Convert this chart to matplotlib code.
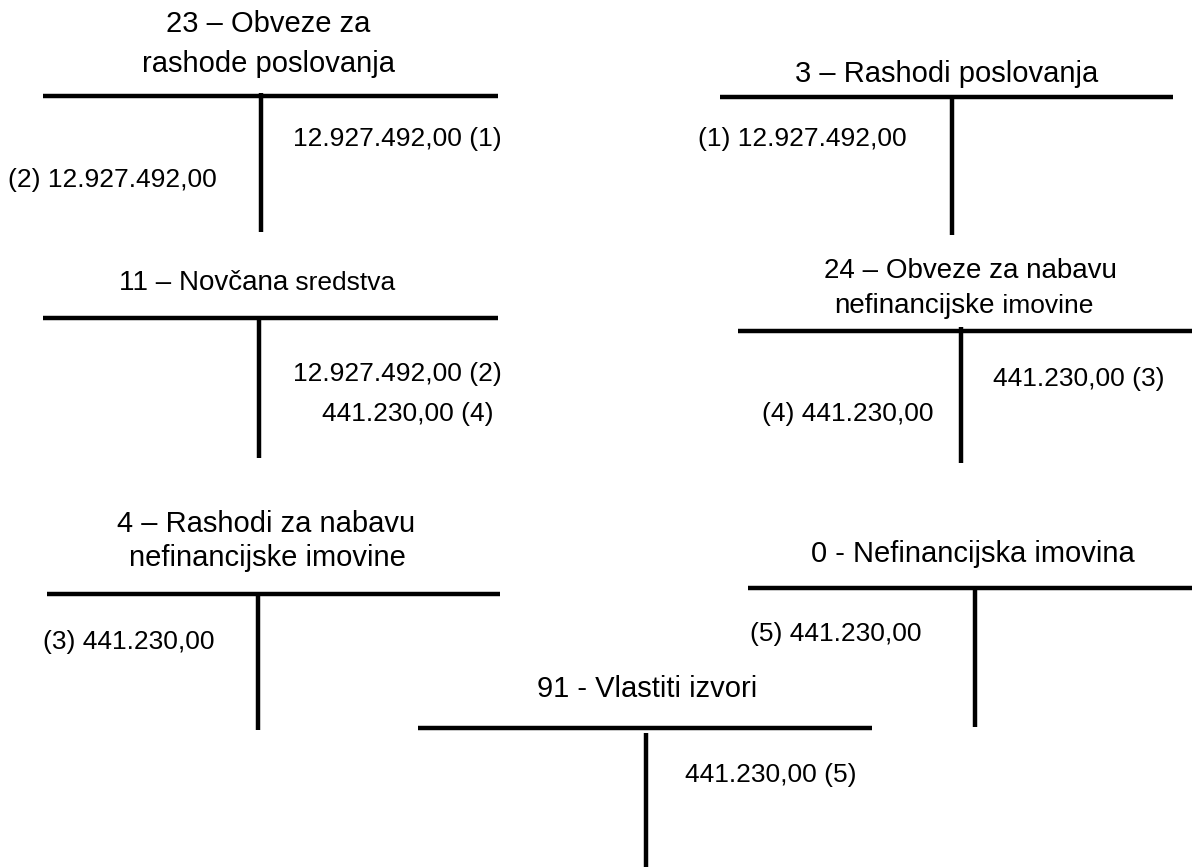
import matplotlib
matplotlib.use("Agg")
import matplotlib.pyplot as plt

plt.rcParams['font.family'] = ['Liberation Sans', 'DejaVu Sans']

# T-konta: naziv, duguje (lijevo), potrazuje (desno)
konta = ["23", "3", "11", "24", "4", "0", "91"]
nazivi = [
    ["23 – Obveze za", "rashode poslovanja"],
    ["3 – Rashodi poslovanja"],
    ["11 – Novčana", " sredstva"],
    ["24 – Obveze za nabavu", "nefinancijske", " imovine"],
    ["4 – Rashodi za nabavu", "nefinancijske imovine"],
    ["0 - Nefinancijska imovina"],
    ["91 - Vlastiti izvori"],
]
duguje = [
    ["(2) 12.927.492,00"],
    ["(1) 12.927.492,00"],
    [],
    ["(4) 441.230,00"],
    ["(3) 441.230,00"],
    ["(5) 441.230,00"],
    [],
]
potrazuje = [
    ["12.927.492,00 (1)"],
    [],
    ["12.927.492,00 (2)", "441.230,00 (4)"],
    ["441.230,00 (3)"],
    [],
    [],
    ["441.230,00 (5)"],
]

# raspored u pikselima (x0, x1, y vodoravne crte; x, y0, y1 okomite crte)
vodoravna = [(43, 498, 96), (720, 1173, 97), (43, 498, 318), (738, 1192, 331),
             (47, 500, 594), (748, 1192, 588), (418, 872, 728)]
okomita = [(261, 93, 232), (952, 95, 235), (259, 318, 458), (961, 327, 463),
           (258, 592, 730), (975, 588, 727), (646, 733, 867)]
# redovi naslova: (sredina x, bazna linija y, [(indeks dijela, velicina)])
naslov_redovi = [
    [(268, 32, [(0, 21)]), (269, 72, [(1, 21)])],
    [(947, 82, [(0, 21)])],
    [(257, 290, [(0, 20), (1, 19)])],
    [(970, 278, [(0, 20)]), (964, 313, [(1, 20), (2, 19)])],
    [(266, 532, [(0, 21)]), (267, 566, [(1, 21)])],
    [(973, 562, [(0, 21)])],
    [(647, 697, [(0, 21)])],
]
duguje_poz = [[(8, 187)], [(698, 146)], [], [(762, 421)], [(43, 649)], [(750, 641)], []]
potrazuje_poz = [[(293, 146)], [], [(293, 381), (322, 421)], [(993, 386)], [], [], [(685, 782)]]

W, H = 1192, 867
fig = plt.figure(figsize=(W / 100, H / 100), dpi=100)
ax = fig.add_axes([0, 0, 1, 1])
ax.set_xlim(0, W)
ax.set_ylim(H, 0)
ax.axis('off')
r = fig.canvas.get_renderer()

fs_iznos = 19
lw = 3.2

for i in range(len(konta)):
    x0, x1, y = vodoravna[i]
    ax.plot([x0, x1], [y, y], color='black', lw=lw, solid_capstyle='butt')
    x, y0, y1 = okomita[i]
    ax.plot([x, x], [y0, y1], color='black', lw=lw, solid_capstyle='butt')

    for cx, by, dijelovi in naslov_redovi[i]:
        teksti = [ax.text(0, by, nazivi[i][k], fontsize=fs, ha='left', va='baseline')
                  for k, fs in dijelovi]
        sirine = [t.get_window_extent(r).width for t in teksti]
        xp = cx - sum(sirine) / 2
        for t, w in zip(teksti, sirine):
            t.set_x(xp)
            xp += w

    for txt, (tx, ty) in zip(duguje[i], duguje_poz[i]):
        ax.text(tx, ty, txt, fontsize=fs_iznos, ha='left', va='baseline')
    for txt, (tx, ty) in zip(potrazuje[i], potrazuje_poz[i]):
        ax.text(tx, ty, txt, fontsize=fs_iznos, ha='left', va='baseline')

fig.savefig("out.png", dpi=100, facecolor='white')
